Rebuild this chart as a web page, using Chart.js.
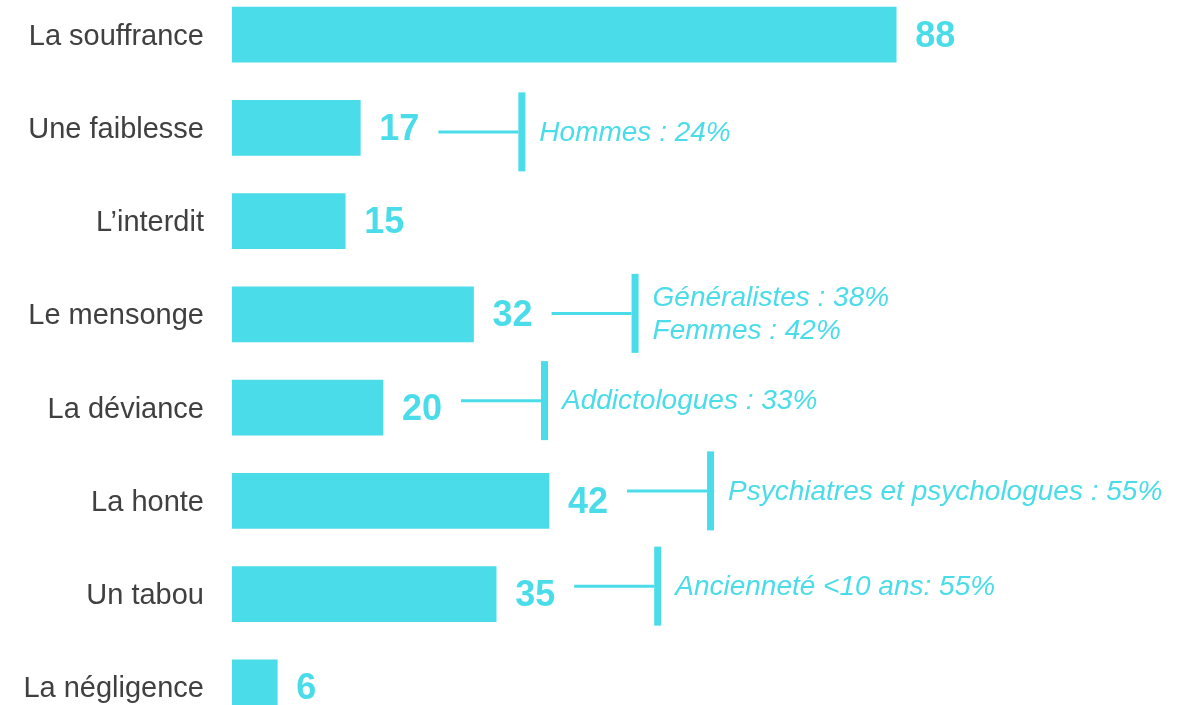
<!DOCTYPE html>
<html lang="fr">
<head>
<meta charset="utf-8">
<title>Représentations</title>
<script src="https://cdn.jsdelivr.net/npm/chart.js@4/dist/chart.umd.min.js"></script>
<style>
    html, body { margin: 0; padding: 0; background: #fff; overflow: hidden; }
    .chart-wrap { position: absolute; left: 0; top: -12px; width: 1183px; height: 746px; }
</style>
</head>
<body>
<div class="chart-wrap"><canvas id="barChart"></canvas></div>
<script>
// Data
const categories = ['La souffrance', 'Une faiblesse', 'L\u2019interdit', 'Le mensonge', 'La déviance', 'La honte', 'Un tabou', 'La négligence'];
const values = [88, 17, 15, 32, 20, 42, 35, 6];

// Side notes (category -> text lines)
const noteCategories = ['Une faiblesse', 'Le mensonge', 'La déviance', 'La honte', 'Un tabou'];
const noteTexts = [
    ['Hommes : 24%'],
    ['Généralistes : 38%', 'Femmes : 42%'],
    ['Addictologues : 33%'],
    ['Psychiatres et psychologues : 55%'],
    ['Ancienneté <10 ans: 55%']
];
// small vertical nudges of the brackets, as in the original slide
const noteShift = [4, -1, -7, -10, -8];

const CYAN = '#4adce8';
const GREY = '#404040';

// Value labels + brackets drawn after the bars
const labelsPlugin = {
    id: 'labelsPlugin',
    afterDatasetsDraw(chart) {
        const ctx = chart.ctx;
        const meta = chart.getDatasetMeta(0);
        ctx.save();
        ctx.fillStyle = CYAN;
        ctx.strokeStyle = CYAN;
        ctx.textBaseline = 'middle';

        const labelEnds = [];
        meta.data.forEach((bar, i) => {
            ctx.font = 'bold 36px "Liberation Sans", Arial, sans-serif';
            ctx.textAlign = 'left';
            const txt = String(values[i]);
            const x = bar.x + 19;
            ctx.fillText(txt, x, bar.y + 2);
            labelEnds.push(x + ctx.measureText(txt).width);
        });

        noteCategories.forEach((cat, n) => {
            const i = categories.indexOf(cat);
            const bar = meta.data[i];
            const cy = bar.y + noteShift[n];
            const x0 = labelEnds[i] + 19;
            const x1 = x0 + 80;

            ctx.lineWidth = 3;
            ctx.beginPath();
            ctx.moveTo(x0, cy);
            ctx.lineTo(x1, cy);
            ctx.stroke();

            ctx.fillRect(x1, cy - 39.5, 7, 79);

            ctx.font = 'italic 28px "Liberation Sans", Arial, sans-serif';
            const lines = noteTexts[n];
            const lh = 33;
            lines.forEach((line, k) => {
                const ty = cy + 1 + (k - (lines.length - 1) / 2) * lh;
                ctx.fillText(line, x1 + 21, ty);
            });
        });
        ctx.restore();
    }
};

new Chart(document.getElementById('barChart').getContext('2d'), {
    type: 'bar',
    data: {
        labels: categories,
        datasets: [{
            data: values,
            backgroundColor: CYAN,
            borderWidth: 0,
            barThickness: 55
        }]
    },
    options: {
        indexAxis: 'y',
        responsive: true,
        maintainAspectRatio: false,
        animation: false,
        layout: { padding: 0 },
        plugins: {
            legend: { display: false },
            tooltip: { enabled: false }
        },
        scales: {
            x: {
                min: 0,
                max: 126,
                display: false
            },
            y: {
                border: { display: false },
                grid: { display: false, drawTicks: false },
                ticks: {
                    color: GREY,
                    padding: 28,
                    labelOffset: 2,
                    font: { family: '"Liberation Sans", Arial, sans-serif', size: 29 }
                },
                afterFit(scale) {
                    scale.width = 232;
                    // tick padding would otherwise push the plot area in vertically
                    scale.paddingTop = 0;
                    scale.paddingBottom = 0;
                }
            }
        }
    },
    plugins: [labelsPlugin]
});
</script>
</body>
</html>
